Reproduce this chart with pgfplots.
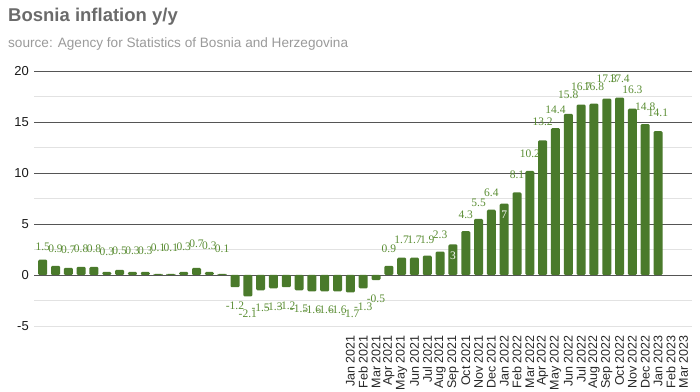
\documentclass[border=0pt]{standalone}
\usepackage{pgfplots}
\usepackage{pgfplotstable}
\pgfplotsset{compat=1.18}
\usepackage{fontspec}
\setmainfont{Liberation Sans}
\newfontfamily\labfont{Liberation Serif}
\definecolor{barg}{HTML}{4A7A2B}
\definecolor{labg}{HTML}{5A8D33}
\definecolor{titleg}{HTML}{6B6B6B}
\definecolor{subg}{HTML}{9A9A9A}
\definecolor{majg}{HTML}{555555}
\definecolor{ming}{HTML}{E2E2E2}

\pgfplotstableread{
x y
0 1.5
1 0.9
2 0.7
3 0.8
4 0.8
5 0.3
6 0.5
7 0.3
8 0.3
9 0.1
10 0.1
11 0.3
12 0.7
13 0.3
14 0.1
15 -1.2
16 -2.1
17 -1.5
18 -1.3
19 -1.2
20 -1.5
21 -1.6
22 -1.6
23 -1.6
24 -1.7
25 -1.3
26 -0.5
27 0.9
28 1.7
29 1.7
30 1.9
31 2.3
32 3
33 4.3
34 5.5
35 6.4
36 7
37 8.1
38 10.2
39 13.2
40 14.4
41 15.8
42 16.7
43 16.8
44 17.3
45 17.4
46 16.3
47 14.8
48 14.1
}\bars

\pgfplotstableread{
x ly lab
0 2.75 1.5
1 2.55 0.9
2 2.45 0.7
3 2.55 0.8
4 2.55 0.8
5 2.25 0.3
6 2.35 0.5
7 2.35 0.3
8 2.35 0.3
9 2.65 0.1
10 2.65 0.1
11 2.75 0.3
12 3.05 0.7
13 2.85 0.3
14 2.55 0.1
15 -3.04 -1.2
16 -3.8 -2.1
17 -3.24 -1.5
18 -3.14 -1.3
19 -3.04 -1.2
20 -3.3 -1.5
21 -3.43 -1.6
22 -3.43 -1.6
23 -3.43 -1.6
24 -3.8 -1.7
25 -3.14 -1.3
26 -2.35 -0.5
27 2.6 0.9
28 3.5 1.7
29 3.43 1.7
30 3.43 1.9
31 3.92 2.3
33 5.95 4.3
34 7.09 5.5
35 8.1 6.4
37 9.8 8.1
38 11.93 10.2
39 15.03 13.2
40 16.18 14.4
41 17.65 15.8
42 18.46 16.7
43 18.46 16.8
44 19.2 17.3
45 19.2 17.4
46 18.14 16.3
47 16.5 14.8
48 15.9 14.1
}\labs

\pgfplotstableread{
x ly lab
32 1.86 3
36 5.95 7
}\inlabs

\begin{document}
\begin{tikzpicture}
\path[use as bounding box] (0,0) rectangle (700bp,392bp);
\node[anchor=base west, font=\fontsize{18.5bp}{20bp}\selectfont\bfseries, text=titleg, inner sep=0pt] at (8bp,370bp) {Bosnia inflation y/y};
\node[anchor=base west, font=\fontsize{13.6bp}{15bp}\selectfont, text=subg, inner sep=0pt] at (8bp,344bp) {source: Agency for Statistics of Bosnia and Herzegovina};
\begin{axis}[at={(34bp,66bp)}, anchor=south west, scale only axis,
  width=658bp, height=255bp,
  xmin=-0.68, xmax=50.65, ymin=-5, ymax=20,
  axis line style={draw=none},
  major tick length=0pt, minor tick length=0pt,
  ytick={0,5,10,15,20},
  minor ytick={-2.5,2.5,7.5,12.5,17.5},
  extra y ticks={-5},
  extra y tick style={grid=major, major grid style={ming, line width=0.8bp}},
  ymajorgrids, yminorgrids,
  major grid style={majg, line width=0.8bp},
  minor grid style={ming, line width=0.8bp},
  xtick={24,...,50},
  xticklabels={Jan 2021,Feb 2021,Mar 2021,Apr 2021,May 2021,Jun 2021,Jul 2021,Aug 2021,Sep 2021,Oct 2021,Nov 2021,Dec 2021,Jan 2022,Feb 2022,Mar 2022,Apr 2022,May 2022,Jun 2022,Jul 2022,Aug 2022,Sep 2022,Oct 2022,Nov 2022,Dec 2022,Jan 2023,Feb 2023,Mar 2023},
  xticklabel style={rotate=90, anchor=east, inner sep=0pt, font=\fontsize{12.5bp}{13bp}\selectfont, text=black!85},
  xticklabel shift=9bp,
  yticklabel style={anchor=east, inner sep=0pt, xshift=-5bp, font=\fontsize{13bp}{14bp}\selectfont, text=black!90},
  /pgf/number format/assume math mode=true,
  clip=false,
]
\addplot[ybar, bar width=9bp, bar shift=0pt, fill=barg, draw=none, rounded corners=1.2bp] table[x=x, y=y] {\bars};
\addplot[only marks, mark=none, nodes near coords, point meta=explicit symbolic,
  every node near coord/.style={anchor=center, inner sep=0pt, text=labg, font=\fontsize{11.5bp}{12bp}\selectfont\labfont}]
  table[x=x, y=ly, meta=lab] {\labs};
\addplot[only marks, mark=none, nodes near coords, point meta=explicit symbolic,
  every node near coord/.style={anchor=center, inner sep=0pt, text=white, font=\fontsize{11.5bp}{12bp}\selectfont\labfont}]
  table[x=x, y=ly, meta=lab] {\inlabs};
\end{axis}
\end{tikzpicture}
\end{document}
